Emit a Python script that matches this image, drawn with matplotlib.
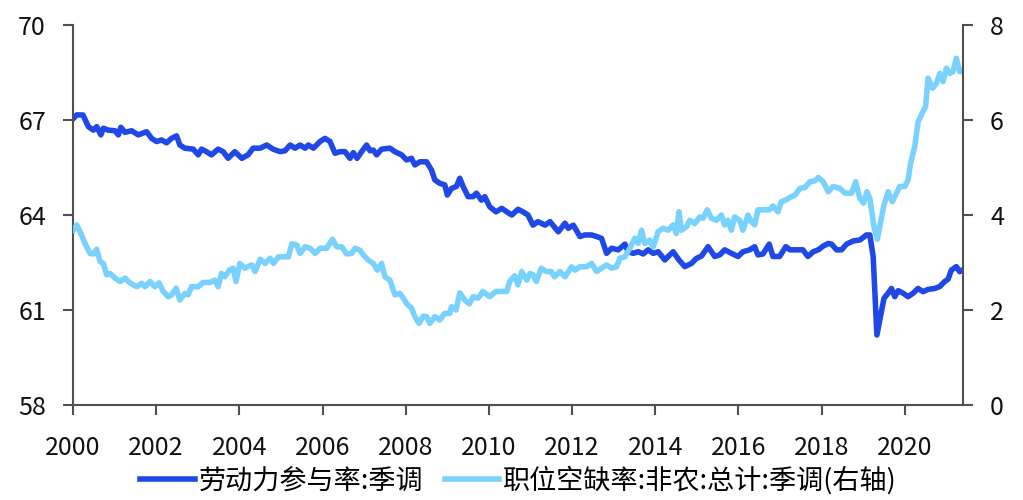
import matplotlib
matplotlib.use("Agg")
import matplotlib.pyplot as plt

plt.rcParams['font.family'] = ['Noto Sans CJK SC', 'DejaVu Sans']

# 劳动力参与率:季调 (left axis)
lfpr_x = [2000.01, 2000.09, 2000.21, 2000.24, 2000.37, 2000.49, 2000.57, 2000.67, 2000.73, 2000.85,
          2001.01, 2001.09, 2001.15, 2001.25, 2001.41, 2001.57, 2001.77, 2001.89, 2002.01, 2002.13,
          2002.25, 2002.37, 2002.49, 2002.57, 2002.69, 2002.89, 2003.01, 2003.09, 2003.21, 2003.33,
          2003.49, 2003.61, 2003.73, 2003.89, 2004.06, 2004.21, 2004.33, 2004.50, 2004.66, 2004.81,
          2004.98, 2005.10, 2005.22, 2005.34, 2005.46, 2005.58, 2005.66, 2005.78, 2005.94, 2006.06,
          2006.18, 2006.30, 2006.42, 2006.54, 2006.66, 2006.74, 2006.83, 2006.94, 2007.06, 2007.14,
          2007.22, 2007.30, 2007.42, 2007.62, 2007.74, 2007.90, 2008.02, 2008.14, 2008.22, 2008.34,
          2008.50, 2008.62, 2008.70, 2008.82, 2008.94, 2009.00, 2009.10, 2009.22, 2009.30, 2009.38,
          2009.50, 2009.62, 2009.70, 2009.82, 2009.90, 2010.02, 2010.17, 2010.31, 2010.43, 2010.55,
          2010.70, 2010.82, 2010.94, 2011.06, 2011.18, 2011.35, 2011.47, 2011.67, 2011.83, 2011.91,
          2012.03, 2012.19, 2012.31, 2012.47, 2012.59, 2012.71, 2012.83, 2012.95, 2013.11, 2013.27,
          2013.35, 2013.47, 2013.59, 2013.71, 2013.83, 2013.95, 2014.07, 2014.23, 2014.35, 2014.43,
          2014.57, 2014.71, 2014.87, 2014.99, 2015.11, 2015.27, 2015.43, 2015.55, 2015.67, 2015.83,
          2015.99, 2016.11, 2016.27, 2016.39, 2016.47, 2016.59, 2016.74, 2016.83, 2016.99, 2017.14,
          2017.24, 2017.40, 2017.55, 2017.67, 2017.80, 2017.92, 2018.04, 2018.16, 2018.24, 2018.36,
          2018.48, 2018.60, 2018.76, 2018.92, 2019.08, 2019.16, 2019.24, 2019.33, 2019.40, 2019.50,
          2019.60, 2019.68, 2019.76, 2019.84, 2019.96, 2020.08, 2020.20, 2020.32, 2020.44, 2020.56,
          2020.72, 2020.84, 2020.96, 2021.04, 2021.12, 2021.24, 2021.32, 2021.42]
lfpr_v = [67.05, 67.16, 67.16, 67.16, 66.79, 66.68, 66.79, 66.53, 66.74, 66.68,
          66.66, 66.53, 66.77, 66.61, 66.66, 66.53, 66.63, 66.42, 66.32, 66.37,
          66.28, 66.42, 66.50, 66.21, 66.11, 66.08, 65.90, 66.08, 66.00, 65.90,
          66.08, 66.00, 65.79, 66.00, 65.79, 65.90, 66.11, 66.11, 66.21, 66.08,
          66.00, 66.03, 66.21, 66.11, 66.21, 66.11, 66.21, 66.11, 66.32, 66.42,
          66.32, 65.95, 66.00, 66.00, 65.79, 65.97, 65.79, 66.00, 66.21, 66.03,
          66.05, 65.90, 66.08, 66.11, 66.00, 65.90, 65.74, 65.79, 65.58, 65.68,
          65.68, 65.42, 65.11, 65.00, 64.95, 64.63, 64.84, 64.90, 65.16, 64.90,
          64.58, 64.58, 64.69, 64.47, 64.58, 64.26, 64.10, 64.21, 64.10, 64.00,
          64.18, 64.10, 64.00, 63.68, 63.79, 63.68, 63.79, 63.47, 63.74, 63.58,
          63.68, 63.32, 63.37, 63.37, 63.32, 63.26, 62.79, 62.95, 62.90, 63.08,
          62.84, 62.79, 62.84, 62.77, 62.90, 62.79, 62.84, 62.58, 62.74, 62.84,
          62.58, 62.37, 62.47, 62.63, 62.70, 63.00, 62.69, 62.74, 62.90, 62.79,
          62.69, 62.84, 62.90, 63.00, 62.74, 62.77, 63.08, 62.69, 62.69, 63.00,
          62.90, 62.90, 62.90, 62.69, 62.84, 62.90, 63.02, 63.10, 63.08, 62.90,
          62.90, 63.08, 63.18, 63.21, 63.37, 63.37, 62.69, 60.21, 60.69, 61.37,
          61.53, 61.68, 61.42, 61.61, 61.53, 61.42, 61.53, 61.68, 61.58, 61.65,
          61.68, 61.74, 61.90, 61.97, 62.26, 62.37, 62.21, 62.29]

# 职位空缺率:非农:总计:季调 (right axis)
jor_x = [2000.01, 2000.09, 2000.17, 2000.29, 2000.41, 2000.49, 2000.57, 2000.65, 2000.73, 2000.81,
         2000.89, 2001.01, 2001.13, 2001.25, 2001.37, 2001.53, 2001.65, 2001.73, 2001.85, 2001.97,
         2002.07, 2002.17, 2002.29, 2002.37, 2002.48, 2002.57, 2002.69, 2002.77, 2002.85, 2003.01,
         2003.13, 2003.29, 2003.41, 2003.49, 2003.57, 2003.65, 2003.76, 2003.85, 2003.92, 2004.01,
         2004.13, 2004.30, 2004.38, 2004.50, 2004.62, 2004.74, 2004.82, 2004.94, 2005.10, 2005.18,
         2005.26, 2005.38, 2005.46, 2005.58, 2005.70, 2005.82, 2005.94, 2006.10, 2006.24, 2006.34,
         2006.46, 2006.58, 2006.70, 2006.78, 2006.90, 2006.98, 2007.10, 2007.22, 2007.32, 2007.42,
         2007.50, 2007.62, 2007.74, 2007.86, 2007.94, 2008.02, 2008.14, 2008.22, 2008.32, 2008.42,
         2008.50, 2008.58, 2008.70, 2008.82, 2008.94, 2009.06, 2009.10, 2009.21, 2009.30, 2009.42,
         2009.53, 2009.62, 2009.74, 2009.86, 2010.02, 2010.17, 2010.31, 2010.43, 2010.50, 2010.62,
         2010.70, 2010.79, 2010.91, 2010.99, 2011.06, 2011.14, 2011.26, 2011.38, 2011.50, 2011.58,
         2011.71, 2011.83, 2011.99, 2012.07, 2012.19, 2012.35, 2012.47, 2012.59, 2012.71, 2012.83,
         2012.95, 2013.07, 2013.15, 2013.27, 2013.39, 2013.51, 2013.59, 2013.67, 2013.75, 2013.87,
         2013.95, 2014.07, 2014.19, 2014.31, 2014.43, 2014.51, 2014.57, 2014.63, 2014.75, 2014.83,
         2014.95, 2015.07, 2015.15, 2015.25, 2015.35, 2015.47, 2015.59, 2015.67, 2015.75, 2015.83,
         2015.91, 2016.03, 2016.11, 2016.23, 2016.31, 2016.39, 2016.47, 2016.63, 2016.75, 2016.83,
         2016.95, 2017.03, 2017.15, 2017.28, 2017.36, 2017.48, 2017.60, 2017.72, 2017.84, 2017.92,
         2018.04, 2018.16, 2018.28, 2018.44, 2018.56, 2018.72, 2018.82, 2018.92, 2019.01, 2019.09,
         2019.16, 2019.26, 2019.34, 2019.42, 2019.50, 2019.60, 2019.70, 2019.78, 2019.88, 2020.00,
         2020.08, 2020.14, 2020.24, 2020.32, 2020.40, 2020.50, 2020.56, 2020.67, 2020.76, 2020.84,
         2020.92, 2021.00, 2021.08, 2021.16, 2021.24, 2021.32, 2021.39]
jor_v = [3.68, 3.79, 3.65, 3.40, 3.19, 3.18, 3.28, 3.02, 2.98, 2.74,
         2.77, 2.67, 2.60, 2.67, 2.57, 2.49, 2.56, 2.49, 2.60, 2.49,
         2.57, 2.39, 2.28, 2.32, 2.46, 2.21, 2.35, 2.32, 2.49, 2.49,
         2.58, 2.58, 2.63, 2.49, 2.77, 2.70, 2.84, 2.88, 2.60, 2.98,
         2.88, 2.95, 2.81, 3.07, 2.98, 3.09, 2.98, 3.12, 3.12, 3.12,
         3.39, 3.37, 3.19, 3.33, 3.30, 3.19, 3.30, 3.30, 3.49, 3.33,
         3.33, 3.18, 3.19, 3.30, 3.26, 3.16, 3.05, 2.98, 2.84, 2.98,
         2.70, 2.63, 2.32, 2.35, 2.25, 2.14, 2.04, 1.86, 1.72, 1.87,
         1.86, 1.72, 1.86, 1.79, 1.93, 1.93, 2.07, 2.00, 2.36, 2.21,
         2.13, 2.28, 2.25, 2.39, 2.28, 2.39, 2.39, 2.39, 2.60, 2.72,
         2.53, 2.81, 2.63, 2.77, 2.74, 2.60, 2.88, 2.81, 2.81, 2.70,
         2.81, 2.70, 2.91, 2.84, 2.91, 2.91, 2.98, 2.81, 2.88, 2.95,
         2.88, 2.91, 3.09, 3.12, 3.30, 3.51, 3.40, 3.68, 3.40, 3.47,
         3.33, 3.65, 3.72, 3.68, 3.79, 3.61, 4.07, 3.68, 3.75, 3.89,
         3.82, 3.96, 3.93, 4.11, 3.93, 3.89, 4.00, 3.79, 3.89, 3.68,
         3.96, 3.89, 3.68, 4.00, 3.86, 3.79, 4.11, 4.11, 4.11, 4.19,
         4.07, 4.28, 4.32, 4.39, 4.42, 4.56, 4.58, 4.70, 4.72, 4.79,
         4.70, 4.49, 4.60, 4.56, 4.46, 4.46, 4.70, 4.35, 4.25, 4.49,
         4.35, 3.75, 3.49, 3.86, 4.21, 4.49, 4.28, 4.42, 4.60, 4.60,
         4.74, 5.09, 5.44, 5.96, 6.11, 6.28, 6.88, 6.67, 6.77, 6.98,
         6.81, 7.09, 6.98, 7.02, 7.30, 7.02, 7.02]

x_ticks = [2000, 2002, 2004, 2006, 2008, 2010, 2012, 2014, 2016, 2018, 2020]
left_ticks = [58, 61, 64, 67, 70]
right_ticks = [0, 2, 4, 6, 8]
label_left = '劳动力参与率:季调'
label_right = '职位空缺率:非农:总计:季调(右轴)'

dark_blue = '#1f48e6'
light_blue = '#79d2fd'
spine_col = '#505050'

fig = plt.figure(figsize=(10.23, 5.0), dpi=100)
ax = fig.add_axes([73/1023, 1-405/500, (963-73)/1023, 380/500])
ax2 = ax.twinx()

l1, = ax.plot(lfpr_x, lfpr_v, color=dark_blue, lw=4.0, solid_joinstyle='round', label=label_left)
l2, = ax2.plot(jor_x, jor_v, color=light_blue, lw=4.0, solid_joinstyle='round', label=label_right)

ax.set_xlim(2000, 2021.40)
ax.set_ylim(58, 70)
ax2.set_ylim(0, 8)
ax.set_xticks(x_ticks)
ax.set_xticklabels([str(t) for t in x_ticks])
ax.set_yticks(left_ticks)
ax2.set_yticks(right_ticks)

for a in (ax, ax2):
    a.spines['top'].set_visible(False)
    for s in ('left', 'right', 'bottom'):
        a.spines[s].set_color(spine_col)
        a.spines[s].set_linewidth(1.5)
    a.tick_params(direction='out', length=7.5, width=1.5, color=spine_col,
                  labelsize=18, labelcolor='#111111', pad=12)
ax.tick_params(axis='x', pad=14)
ax.spines['right'].set_visible(False)
ax2.spines['left'].set_visible(False)
ax2.spines['bottom'].set_visible(False)

fig.legend(handles=[l1, l2], loc='lower center', bbox_to_anchor=(0.507, -0.038), ncol=2,
           frameon=False, fontsize=19.5, handlelength=2.0, handletextpad=0.15, columnspacing=0.8)

fig.savefig('out.png', dpi=100)
